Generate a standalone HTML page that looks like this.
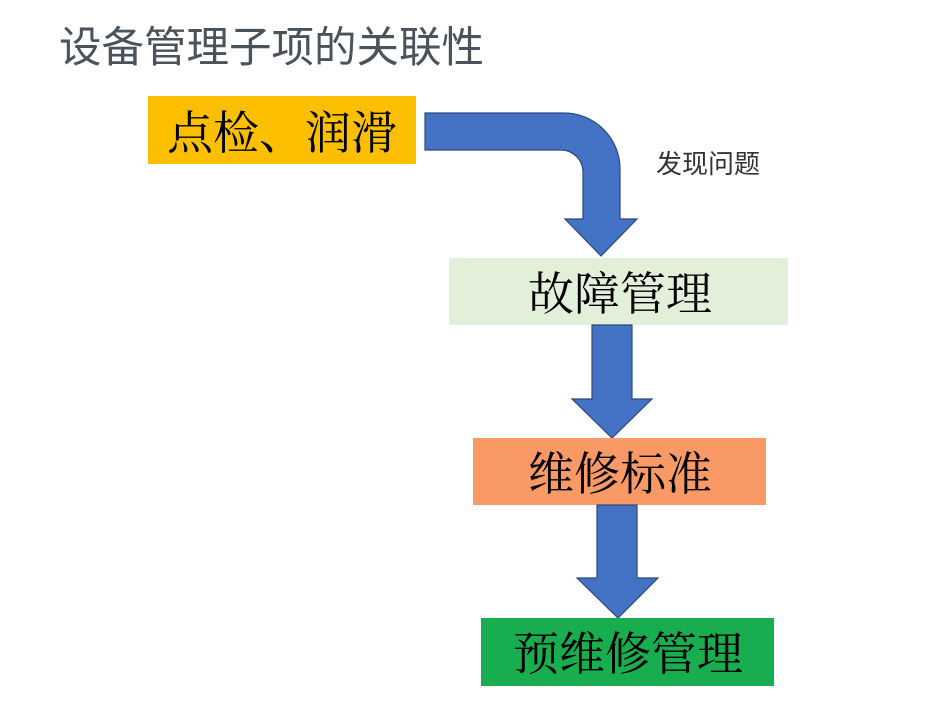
<!DOCTYPE html>
<html>
<head>
<meta charset="utf-8">
<style>
  html, body { margin: 0; padding: 0; background: #ffffff; }
  body { width: 945px; height: 718px; overflow: hidden; }
  svg { display: block; }
  .serif { font-family: "Liberation Serif", "Noto Serif CJK SC", serif; fill: #000; }
  .sans { font-family: "Liberation Sans", "Noto Sans CJK SC", sans-serif; }
</style>
</head>
<body>
<svg width="945" height="718" viewBox="0 0 945 718" xmlns="http://www.w3.org/2000/svg">
  <rect width="945" height="718" fill="#ffffff"/>

  <!-- Title -->
  <text class="sans" x="59" y="62" font-size="42.5" fill="#4a525c">设备管理子项的关联性</text>

  <!-- Yellow box -->
  <rect x="148" y="96" width="268" height="68" fill="#fcbf00"/>
  <text class="serif" x="282" y="149" font-size="46" text-anchor="middle">点检、润滑</text>

  <!-- Curved arrow -->
  <path d="M425,113 H564 A56,56 0 0 1 620,169 V219 H637 L601,256 L565,219 H583 V172 A22,22 0 0 0 561,150 H425 Z"
        fill="#4472c4" stroke="#2a4a7a" stroke-width="1.2" stroke-linejoin="miter"/>

  <!-- label -->
  <text class="sans" x="656" y="173" font-size="26" fill="#333333">发现问题</text>

  <!-- Light green box -->
  <rect x="449" y="258" width="339" height="67" fill="#e2efd9"/>
  <text class="serif" x="620" y="310" font-size="46" text-anchor="middle">故障管理</text>

  <!-- Arrow 2 -->
  <path d="M592,325 H632 V399 H652 L612,438 L572,399 H592 Z"
        fill="#4472c4" stroke="#2a4a7a" stroke-width="1.2"/>

  <!-- Orange box -->
  <rect x="473" y="438" width="293" height="67" fill="#f99a66"/>
  <text class="serif" x="620" y="490" font-size="46" text-anchor="middle">维修标准</text>

  <!-- Arrow 3 -->
  <path d="M597,505 H637 V578 H658 L618,618 L577,578 H597 Z"
        fill="#4472c4" stroke="#2a4a7a" stroke-width="1.2"/>

  <!-- Dark green box -->
  <rect x="481" y="618" width="293" height="68" fill="#18ae4f"/>
  <text class="serif" x="628" y="670" font-size="46" text-anchor="middle">预维修管理</text>
</svg>
</body>
</html>
